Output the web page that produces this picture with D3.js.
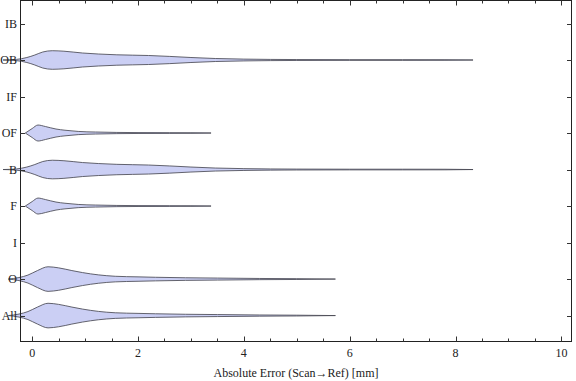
<!DOCTYPE html>
<html><head><meta charset="utf-8">
<script src="https://cdn.jsdelivr.net/npm/d3@7"></script>
<style>body{margin:0;background:#fff}svg{display:block}</style>
</head><body><svg id="c" width="576" height="381"></svg>
<script>
// categories bottom -> top
const categories = ["All","O","I","F","B","OF","IF","OB","IB"];
const catDist = ["all","all",null,"f","b","f",null,"b",null];
// density profiles: [error mm, relative density]
const distB_x = [-0.55,-0.3,-0.1,0.05,0.2,0.38,0.6,0.95,1.25,1.6,2.2,2.6,3.0,3.46,4.0,4.5,5.0,6.0,7.0,7.8,8.33];
const distB_d = [0,0.6,2.5,5,8,9.3,8.8,7,6,5.2,4.5,3.6,2.5,1.5,0.9,0.6,0.45,0.35,0.35,0.3,0];
const distF_x = [-0.13,0.0,0.11,0.25,0.45,0.62,0.87,1.2,1.6,2.0,2.6,3.0,3.38];
const distF_d = [0,4.5,8,6.5,4,2.8,1.6,1.0,0.6,0.45,0.35,0.3,0];
const distAll_x = [-0.45,-0.25,-0.08,0.1,0.3,0.5,0.75,0.95,1.25,1.57,2.0,2.33,2.9,3.5,4.3,5.0,5.73];
const distAll_d = [0,1.5,4,8.5,12.3,11.2,8.5,6.5,4.2,2.8,2.2,1.8,1.3,1.0,0.6,0.4,0];
const xMajor = [0,2,4,6,8,10];
const xMinor = d3.range(0,10.01,0.5).filter(v=>v%2!==0);

const dists = {
  b: distB_x.map((v,i)=>[v,distB_d[i]]),
  f: distF_x.map((v,i)=>[v,distF_d[i]]),
  all: distAll_x.map((v,i)=>[v,distAll_d[i]])
};

const svg = d3.select("#c");
const L=20, R=572, T=0.5, B=341.5;
const x = d3.scaleLinear().domain([-0.23,10.2]).range([L,R]);
const y = d3.scaleLinear().domain([0.29,9.63]).range([B,T]);
const w = d3.scaleLinear().domain([0,12.3]).range([0,12.3]);
const font = "'Liberation Serif','Times New Roman',serif";

// violins
categories.forEach((c,i)=>{
  const key = catDist[i];
  if(!key) return;
  const cy = y(i+1);
  const area = d3.area().curve(d3.curveMonotoneX)
    .x(d=>x(d[0])).y0(d=>cy - w(d[1])).y1(d=>cy + w(d[1]));
  svg.append("path").attr("d", area(dists[key]))
    .attr("fill","#cbcff4").attr("stroke","#4a4a55").attr("stroke-opacity",0.85)
    .attr("stroke-width",1);
});

// frame
svg.append("rect").attr("x",L+0.5).attr("y",T).attr("width",R-L-1).attr("height",B-T)
  .attr("fill","none").attr("stroke","#222").attr("stroke-width",1);

// x ticks bottom & top
const tk = svg.append("g").attr("stroke","#333").attr("stroke-width",1);
xMajor.forEach(v=>{
  const px = Math.round(x(v))+0.5;
  tk.append("line").attr("x1",px).attr("x2",px).attr("y1",B).attr("y2",B-5);
  tk.append("line").attr("x1",px).attr("x2",px).attr("y1",T).attr("y2",T+5);
  svg.append("text").attr("x",x(v)).attr("y",B+15).attr("text-anchor","middle")
    .attr("font-family",font).attr("font-size",12).attr("fill","#222").text(v);
});
xMinor.forEach(v=>{
  const px = Math.round(x(v))+0.5;
  tk.append("line").attr("x1",px).attr("x2",px).attr("y1",B).attr("y2",B-3);
  tk.append("line").attr("x1",px).attr("x2",px).attr("y1",T).attr("y2",T+3);
});
// y ticks
categories.forEach((c,i)=>{
  const py = Math.round(y(i+1))+0.5;
  tk.append("line").attr("x1",L).attr("x2",L+5).attr("y1",py).attr("y2",py);
  tk.append("line").attr("x1",R).attr("x2",R-5).attr("y1",py).attr("y2",py);
  svg.append("text").attr("x",17).attr("y",y(i+1)+4).attr("text-anchor","end")
    .attr("font-family",font).attr("font-size",12).attr("fill","#222").text(c);
});

svg.append("text").attr("x",(L+R)/2).attr("y",377).attr("text-anchor","middle")
  .attr("font-family",font).attr("font-size",12).attr("fill","#222")
  .text("Absolute Error (Scan\u2192Ref) [mm]");
</script></body></html>
